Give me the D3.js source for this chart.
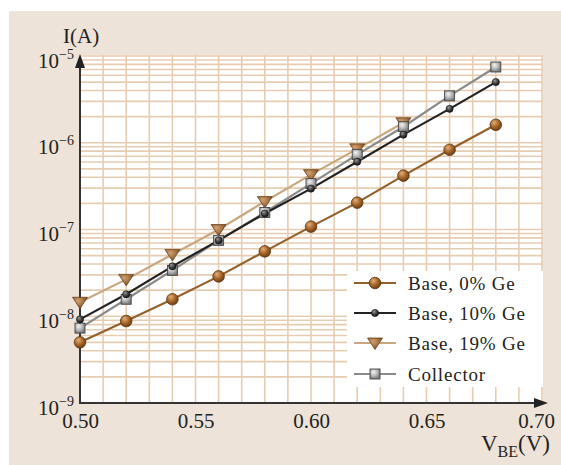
<!DOCTYPE html>
<html><head><meta charset="utf-8">
<script src="https://cdn.jsdelivr.net/npm/d3@7"></script>
<style>
html,body{margin:0;padding:0;background:#fff;}
svg{display:block;}
text{font-family:"Liberation Serif","Times New Roman",serif;fill:#231f20;}
</style></head>
<body>
<svg id="chart" width="561" height="465"></svg>
<script>
// ---- data ----
const vbe = [0.50, 0.52, 0.54, 0.56, 0.58, 0.60, 0.62, 0.64, 0.66, 0.68];
const base0 = [5.0e-9, 8.8e-9, 1.57e-8, 2.88e-8, 5.6e-8, 1.08e-7, 2.04e-7, 4.18e-7, 8.3e-7, 1.61e-6];
const base10 = [9.2e-9, 1.79e-8, 3.76e-8, 7.5e-8, 1.53e-7, 2.96e-7, 6.05e-7, 1.24e-6, 2.46e-6, 5.0e-6];
const base19 = [1.45e-8, 2.66e-8, 5.16e-8, 1.0e-7, 2.1e-7, 4.29e-7, 8.5e-7, 1.7e-6];
const collector = [7.3e-9, 1.57e-8, 3.38e-8, 7.5e-8, 1.57e-7, 3.38e-7, 7.3e-7, 1.53e-6, 3.47e-6, 7.47e-6];
const seriesNames = ["Base, 0% Ge", "Base, 10% Ge", "Base, 19% Ge", "Collector"];
const xTicks = [0.50, 0.55, 0.60, 0.65, 0.70];
const yTickExps = [-9, -8, -7, -6, -5];

const svg = d3.select("#chart");
const defs = svg.append("defs");

function radial(id, c0, c1, c2) {
  const g = defs.append("radialGradient").attr("id", id)
    .attr("cx", "40%").attr("cy", "35%").attr("r", "65%").attr("fx", "35%").attr("fy", "30%");
  g.append("stop").attr("offset", "0%").attr("stop-color", c0);
  g.append("stop").attr("offset", "55%").attr("stop-color", c1);
  g.append("stop").attr("offset", "100%").attr("stop-color", c2);
}
radial("gBrown", "#e2b07a", "#a8672a", "#6e3f12");
radial("gBlack", "#9a9a9a", "#444", "#111");
radial("gTri", "#d2a272", "#a87444", "#7a4e26");
radial("gSq", "#f4f4f4", "#b8b8b8", "#7a7a7a");

// panel background
svg.append("rect").attr("x", 9).attr("y", 11).attr("width", 552).attr("height", 454).attr("fill", "#ede3d8");

const x = d3.scaleLinear().domain([0.5, 0.7]).range([80, 542]);
const y = d3.scaleLog().domain([1e-9, 1e-5]).range([403, 56]);

// plot area
svg.append("rect").attr("x", 80).attr("y", 55).attr("width", 463).attr("height", 348).attr("fill", "#fff");

// grid
const gridColor = "#e6cdb2";
const vGrid = d3.range(51, 71).map(d => d / 100);
svg.append("g").selectAll("line").data(vGrid).join("line")
  .attr("x1", d => x(d)).attr("x2", d => x(d)).attr("y1", 55).attr("y2", 403)
  .attr("stroke", gridColor).attr("stroke-width", 1.6);
const hGrid = y.ticks().filter(d => d > 1.01e-9);
svg.append("g").selectAll("line").data(hGrid).join("line")
  .attr("x1", 80).attr("x2", 543).attr("y1", d => y(d)).attr("y2", d => y(d))
  .attr("stroke", gridColor).attr("stroke-width", 1.6);

// legend background (covers grid)
svg.append("rect").attr("x", 347).attr("y", 271).attr("width", 196).attr("height", 116).attr("fill", "#fff");

// axes
const axisColor = "#333";
const yAxis = svg.append("g").attr("transform", "translate(80,0)")
  .call(d3.axisLeft(y).tickValues(yTickExps.map(e => Math.pow(10, e))).tickSize(0).tickFormat(""));
yAxis.select(".domain").remove();
yAxis.selectAll(".tick").each(function(d) {
  const e = Math.round(Math.log10(d));
  const t = d3.select(this).append("text").attr("x", -6).attr("y", 11)
    .attr("text-anchor", "end").style("font-size", "21px").attr("fill", "#231f20");
  t.append("tspan").text("10");
  t.append("tspan").attr("dy", -9).style("font-size", "14px").text("\u2212" + Math.abs(e));
});

const xAxis = svg.append("g").attr("transform", "translate(0,403)")
  .call(d3.axisBottom(x).tickValues(xTicks).tickSize(0).tickFormat(d3.format(".2f")));
xAxis.select(".domain").remove();
xAxis.selectAll("text").attr("y", 10).attr("dy", "0.71em").style("font-size", "21px")
  .attr("fill", "#231f20")
  .attr("dx", d => d === 0.7 ? -6 : 0);

svg.append("line").attr("x1", 80).attr("x2", 80).attr("y1", 404).attr("y2", 66)
  .attr("stroke", axisColor).attr("stroke-width", 2);
svg.append("path").attr("d", "M80,54 L75,68 L85,68 Z").attr("fill", "#222");
svg.append("line").attr("x1", 79).attr("x2", 536).attr("y1", 403).attr("y2", 403)
  .attr("stroke", axisColor).attr("stroke-width", 2);
svg.append("path").attr("d", "M548,403 L534,398 L534,408 Z").attr("fill", "#222");

// axis titles
svg.append("text").attr("x", 63).attr("y", 43).style("font-size", "21px").text("I(A)");
const xt = svg.append("text").attr("x", 550).attr("y", 451).attr("text-anchor", "end").style("font-size", "23px");
xt.append("tspan").text("V");
xt.append("tspan").attr("dy", 6).style("font-size", "16px").text("BE");
xt.append("tspan").attr("dy", -6).text("(V)");

// series
const series = [
  {name: seriesNames[0], vals: base0, line: "#94602c", marker: "circleL"},
  {name: seriesNames[1], vals: base10, line: "#222", marker: "circleS"},
  {name: seriesNames[2], vals: base19, line: "#c9a781", marker: "tri"},
  {name: seriesNames[3], vals: collector, line: "#8a8a8a", marker: "sq"}
];

function drawMarker(g, type) {
  if (type === "circleL") g.append("circle").attr("r", 5.8).attr("fill", "url(#gBrown)").attr("stroke", "#5a3510").attr("stroke-width", 0.8);
  if (type === "circleS") g.append("circle").attr("r", 3.6).attr("fill", "url(#gBlack)").attr("stroke", "#111").attr("stroke-width", 0.6);
  if (type === "tri") g.append("path").attr("d", "M-7.5,-5 L7.5,-5 L0,6.5 Z").attr("fill", "url(#gTri)").attr("stroke", "#6a4522").attr("stroke-width", 0.8);
  if (type === "sq") g.append("rect").attr("x", -5).attr("y", -5).attr("width", 10).attr("height", 10).attr("fill", "url(#gSq)").attr("stroke", "#444").attr("stroke-width", 0.9);
}

const line = d3.line().x(d => x(d[0])).y(d => y(d[1]));
const order = [0, 2, 3, 1];
order.forEach(i => {
  const s = series[i];
  const pts = s.vals.map((v, j) => [vbe[j], v]);
  svg.append("path").datum(pts).attr("d", line).attr("fill", "none")
    .attr("stroke", s.line).attr("stroke-width", 2.2);
});
order.forEach(i => {
  const s = series[i];
  const pts = s.vals.map((v, j) => [vbe[j], v]);
  svg.append("g").selectAll("g").data(pts).join("g")
    .attr("transform", d => `translate(${x(d[0])},${y(d[1])})`)
    .each(function() { drawMarker(d3.select(this), s.marker); });
});

// legend
const legY = [283, 313, 343, 374];
series.forEach((s, i) => {
  const g = svg.append("g").attr("transform", `translate(0,${legY[i]})`);
  g.append("line").attr("x1", 354).attr("x2", 396).attr("y1", 0).attr("y2", 0)
    .attr("stroke", s.line).attr("stroke-width", 2.2);
  const m = g.append("g").attr("transform", "translate(375,0)");
  drawMarker(m, s.marker);
  g.append("text").attr("x", 408).attr("y", 7).style("font-size", "19px")
    .style("letter-spacing", "0.8px").text(s.name);
});
</script>
</body></html>
